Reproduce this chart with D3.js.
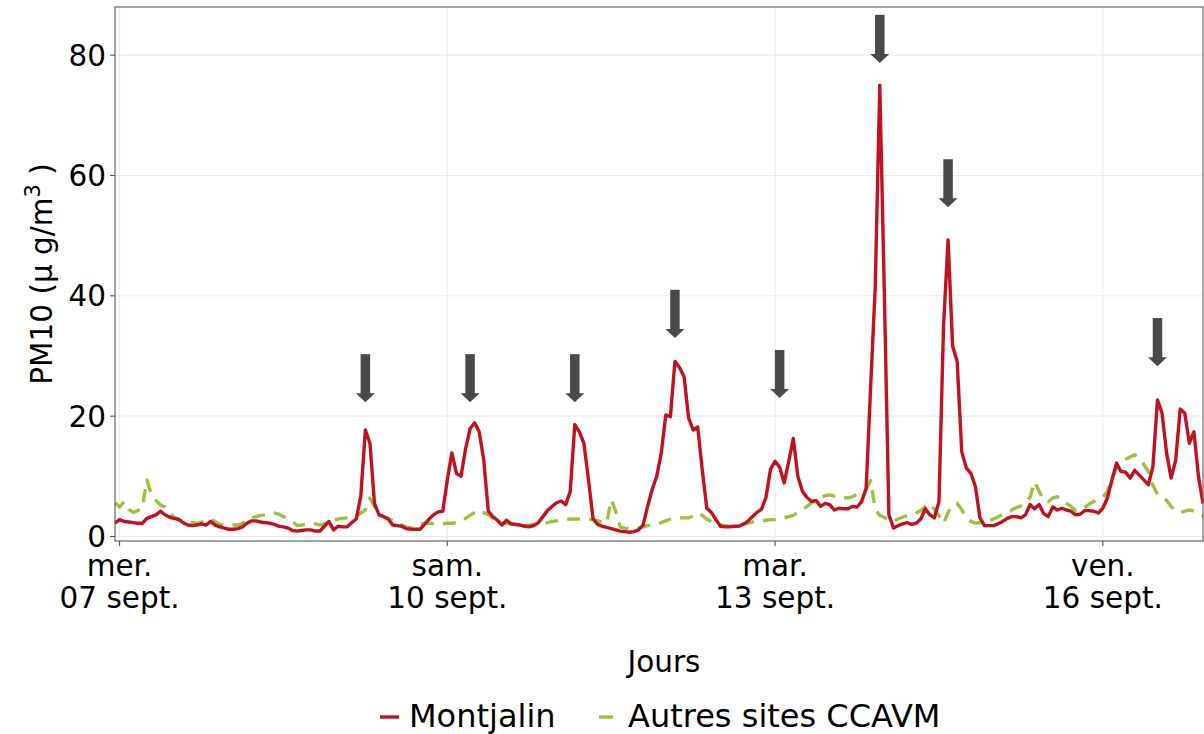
<!DOCTYPE html>
<html>
<head>
<meta charset="utf-8">
<script src="https://cdn.jsdelivr.net/npm/d3@7"></script>
<style>
  body { margin: 0; background: #fff; }
  text { font-family: "DejaVu Sans", sans-serif; fill: #000; }
</style>
</head>
<body>
<script>
// hourly PM10, first value is 06/09 23h
var startHour = new Date(2022, 8, 6, 23);

var montjalin = [
  2.2, 2.8, 2.5, 2.4, 2.3, 2.2, 2.2, 3.0, 3.3, 3.6,
  4.2, 3.6, 3.2, 3.0, 2.8, 2.3, 1.9, 1.8, 1.9, 2.1,
  1.9, 2.5, 1.9, 1.6, 1.4, 1.2, 1.2, 1.3, 1.6, 2.2,
  2.6, 2.6, 2.4, 2.3, 2.2, 2.0, 1.7, 1.6, 1.4, 1.0,
  0.9, 1.0, 1.1, 1.1, 0.9, 0.9, 1.7, 2.5, 1.1, 1.7,
  1.6, 1.6, 2.3, 2.9, 6.8, 17.7, 15.5, 5.5, 3.6, 3.3,
  2.9, 1.9, 1.8, 1.7, 1.3, 1.2, 1.2, 1.2, 2.0, 2.9,
  3.6, 4.1, 4.2, 9.4, 13.9, 10.5, 10.0, 14.5, 17.9, 18.9,
  17.4, 12.7, 4.2, 3.3, 2.7, 1.9, 2.7, 2.1, 2.0, 1.9,
  1.7, 1.6, 1.8, 2.3, 3.3, 4.3, 5.0, 5.6, 5.9, 5.3,
  7.5, 18.6, 17.4, 15.5, 9.5, 3.0, 2.0, 1.7, 1.5, 1.3,
  1.1, 0.9, 0.8, 0.7, 0.8, 1.1, 1.9, 5.0, 7.8, 10.0,
  13.9, 20.2, 19.9, 29.1, 28.1, 26.6, 19.7, 17.7, 18.2, 11.1,
  4.7, 4.0, 2.8, 1.7, 1.6, 1.6, 1.7, 1.7, 2.0, 2.5,
  3.3, 4.0, 4.5, 6.5, 11.2, 12.5, 11.5, 8.9, 12.5, 16.3,
  10.0, 7.5, 6.5, 5.8, 6.0, 5.0, 5.5, 5.3, 4.4, 4.7,
  4.6, 4.6, 5.0, 4.9, 5.8, 8.0, 25.0, 41.5, 75.0, 40.4,
  3.6, 1.4, 1.8, 2.1, 2.3, 2.0, 2.2, 2.9, 4.6, 3.6,
  3.1, 5.8, 34.9, 49.3, 31.6, 29.1, 14.1, 11.4, 10.5, 8.3,
  3.1, 1.8, 1.8, 1.8, 2.1, 2.5, 3.0, 3.3, 3.3, 3.1,
  3.6, 5.3, 4.6, 5.3, 3.8, 3.3, 4.9, 4.4, 4.7, 4.4,
  4.2, 3.6, 3.7, 4.3, 4.3, 4.2, 3.9, 4.7, 6.4, 9.4,
  12.2, 10.8, 10.7, 9.7, 11.0, 10.2, 9.4, 8.6, 11.6, 22.7,
  20.5, 13.9, 9.7, 12.7, 21.2, 20.5, 15.5, 17.4, 10.0, 5.5
];

var autresSites = [
  5.6, 4.9, 5.8, 4.5, 4.0, 4.3, 4.7, 9.4, 7.0, 6.0,
  5.2, 4.9, 3.8, 3.2, 2.9, 2.5, 2.4, 2.3, 2.2, 2.4,
  2.6, 2.9, 2.5, 2.0, 1.9, 1.9, 1.9, 1.9, 2.2, 2.9,
  3.1, 3.3, 3.5, 3.6, 3.8, 3.9, 3.7, 3.3, 3.0, 2.5,
  1.8, 1.9, 2.1, 2.2, 2.1, 1.9, 2.1, 2.4, 2.7, 2.9,
  3.0, 3.1, 3.2, 3.4, 3.9, 4.4, 6.4, 5.0, 4.0, 3.3,
  3.0, 2.6, 2.0, 1.9, 1.6, 1.4, 1.6, 2.0, 2.2, 2.2,
  2.1, 2.1, 2.1, 2.2, 2.2, 2.3, 2.5, 3.0, 3.5, 4.0,
  4.4, 4.0, 3.6, 3.0, 2.5, 2.3, 2.2, 2.1, 2.0, 1.9,
  1.8, 1.9, 2.0, 2.1, 2.2, 2.3, 2.5, 2.6, 2.7, 2.8,
  2.9, 2.9, 2.9, 2.9, 2.8, 2.8, 2.6, 2.4, 2.2, 6.1,
  4.2, 1.6, 1.4, 1.3, 1.3, 1.4, 1.6, 1.8, 1.9, 2.1,
  2.3, 2.6, 2.9, 3.1, 3.1, 3.1, 3.1, 3.4, 3.9, 3.5,
  2.9, 2.5, 2.1, 1.9, 1.8, 1.7, 1.7, 1.8, 2.0, 2.2,
  2.4, 2.5, 2.6, 2.7, 2.8, 2.8, 2.9, 3.1, 3.3, 3.5,
  4.0, 4.4, 5.0, 5.6, 6.1, 6.5, 6.8, 6.9, 6.7, 6.6,
  6.5, 6.4, 6.6, 7.0, 7.3, 7.8, 9.3, 4.5, 3.5, 3.2,
  2.6, 2.5, 2.9, 3.2, 3.5, 3.6, 3.9, 4.3, 5.0, 5.5,
  4.5, 3.5, 2.2, 4.0, 5.2, 5.5, 4.5, 3.0, 2.5, 2.2,
  2.3, 2.4, 2.6, 2.9, 3.3, 3.6, 4.0, 4.4, 4.8, 5.1,
  5.4, 6.5, 9.1, 7.5, 6.0, 5.8, 6.4, 6.6, 6.1, 5.5,
  5.0, 4.3, 4.3, 4.8, 5.4, 5.8, 6.2, 6.5, 7.5, 9.5,
  11.4, 12.2, 12.8, 13.2, 13.6, 13.0, 12.0, 10.8, 8.5, 7.0,
  6.6, 6.0, 5.0, 4.2, 4.0, 4.2, 4.4, 4.2, 3.8, 3.4
];

// arrows above the peaks: hour index and value of the arrow top
var arrowHours = [55, 78, 101, 123, 146, 168, 183, 229];
var arrowTops = [30.3, 30.3, 30.3, 41.0, 31.0, 86.7, 62.7, 36.3];
var arrowLength = 8;

var tickDates = [new Date(2022, 8, 7), new Date(2022, 8, 10), new Date(2022, 8, 13), new Date(2022, 8, 16)];
var tickDays = ["mer.", "sam.", "mar.", "ven."];
var tickDayNums = ["07 sept.", "10 sept.", "13 sept.", "16 sept."];
var yTicks = [0, 20, 40, 60, 80];

var seriesNames = ["Montjalin", "Autres sites CCAVM"];
var seriesColors = ["#c1121f", "#9cc23d"];

function hourDate(i) {
    return new Date(startHour.getTime() + i * 3600000);
}

var canvas = d3.select("body")
        .append("svg")
        .attr("width", 1204)
        .attr("height", 734);

// panel edges (not "top": window.top is read only)
var pLeft = 115, pRight = 1203, pTop = 7, pBottom = 541;

var x = d3.scaleTime()
        .domain([hourDate(0), hourDate(montjalin.length - 1)])
        .range([pLeft, pRight]);

var y = d3.scaleLinear()
        .domain([-0.75, 88])
        .range([pBottom, pTop]);

// grid
canvas.selectAll(".hgrid")
        .data(yTicks)
        .enter()
        .append("line")
        .attr("x1", pLeft)
        .attr("x2", pRight)
        .attr("y1", function(d) { return y(d); })
        .attr("y2", function(d) { return y(d); })
        .attr("stroke", "#ebebeb")
        .attr("stroke-width", 1.1);

canvas.selectAll(".vgrid")
        .data(tickDates)
        .enter()
        .append("line")
        .attr("x1", function(d) { return x(d); })
        .attr("x2", function(d) { return x(d); })
        .attr("y1", pTop)
        .attr("y2", pBottom)
        .attr("stroke", "#ebebeb")
        .attr("stroke-width", 1.1);

// series
var line = d3.line()
        .x(function(d, i) { return x(hourDate(i)); })
        .y(function(d) { return y(d); });

canvas.append("path")
        .datum(autresSites)
        .attr("d", line)
        .attr("fill", "none")
        .attr("stroke", seriesColors[1])
        .attr("stroke-width", 3.4)
        .attr("stroke-dasharray", "13 9")
        .attr("stroke-linejoin", "round");

canvas.append("path")
        .datum(montjalin)
        .attr("d", line)
        .attr("fill", "none")
        .attr("stroke", seriesColors[0])
        .attr("stroke-width", 3.4)
        .attr("stroke-linejoin", "round");

// arrows
var arrows = canvas.selectAll(".arrow")
        .data(arrowHours)
        .enter()
        .append("g");

arrows.append("line")
        .attr("x1", function(d) { return x(hourDate(d)); })
        .attr("x2", function(d) { return x(hourDate(d)); })
        .attr("y1", function(d, i) { return y(arrowTops[i]); })
        .attr("y2", function(d, i) { return y(arrowTops[i] - arrowLength) - 8; })
        .attr("stroke", "#4a4a4a")
        .attr("stroke-width", 9.5);

arrows.append("path")
        .attr("d", function(d, i) {
            var cx = x(hourDate(d)), tip = y(arrowTops[i] - arrowLength);
            return "M" + (cx - 9.5) + "," + (tip - 9) + "L" + (cx + 9.5) + "," + (tip - 9) + "L" + cx + "," + tip + "Z";
        })
        .attr("fill", "#4a4a4a");

// panel border
canvas.append("rect")
        .attr("x", pLeft)
        .attr("y", pTop)
        .attr("width", pRight - pLeft)
        .attr("height", pBottom - pTop)
        .attr("fill", "none")
        .attr("stroke", "#666")
        .attr("stroke-width", 1.2);

// y axis ticks + labels
canvas.selectAll(".ytick")
        .data(yTicks)
        .enter()
        .append("line")
        .attr("x1", pLeft - 5)
        .attr("x2", pLeft)
        .attr("y1", function(d) { return y(d); })
        .attr("y2", function(d) { return y(d); })
        .attr("stroke", "#555")
        .attr("stroke-width", 1.1);

canvas.selectAll(".ylab")
        .data(yTicks)
        .enter()
        .append("text")
        .attr("x", pLeft - 9)
        .attr("y", function(d) { return y(d); })
        .attr("dy", "0.36em")
        .attr("text-anchor", "end")
        .style("font-size", "29.5px")
        .text(function(d) { return d; });

// x axis ticks + two line labels
canvas.selectAll(".xtick")
        .data(tickDates)
        .enter()
        .append("line")
        .attr("x1", function(d) { return x(d); })
        .attr("x2", function(d) { return x(d); })
        .attr("y1", pBottom)
        .attr("y2", pBottom + 5)
        .attr("stroke", "#555")
        .attr("stroke-width", 1.1);

var xl = canvas.selectAll(".xlab")
        .data(tickDates)
        .enter()
        .append("text")
        .attr("text-anchor", "middle")
        .style("font-size", "29.5px");

xl.append("tspan")
        .attr("x", function(d) { return x(d); })
        .attr("y", 576)
        .text(function(d, i) { return tickDays[i]; });

xl.append("tspan")
        .attr("x", function(d) { return x(d); })
        .attr("y", 608)
        .text(function(d, i) { return tickDayNums[i]; });

// axis titles
canvas.append("text")
        .attr("x", 664)
        .attr("y", 672)
        .attr("text-anchor", "middle")
        .style("font-size", "29.5px")
        .text("Jours");

var yt = canvas.append("text")
        .attr("transform", "translate(52," + ((pTop + pBottom) / 2) + ") rotate(-90)")
        .attr("text-anchor", "middle")
        .style("font-size", "29.5px");
yt.append("tspan").text("PM10 (µ g/m");
yt.append("tspan").attr("dy", -12).style("font-size", "21px").text("3");
yt.append("tspan").attr("dy", 12).text(" )");

// legend
var legX = [380, 599];
var legTextX = [409, 628];
canvas.selectAll(".legkey")
        .data(seriesNames)
        .enter()
        .append("line")
        .attr("x1", function(d, i) { return legX[i]; })
        .attr("x2", function(d, i) { return legX[i] + (i === 0 ? 19 : 14); })
        .attr("y1", 717)
        .attr("y2", 717)
        .attr("stroke", function(d, i) { return seriesColors[i]; })
        .attr("stroke-width", 3.4);

canvas.selectAll(".legtext")
        .data(seriesNames)
        .enter()
        .append("text")
        .attr("x", function(d, i) { return legTextX[i]; })
        .attr("y", 727)
        .style("font-size", "32px")
        .text(function(d) { return d; });
</script>
</body>
</html>
